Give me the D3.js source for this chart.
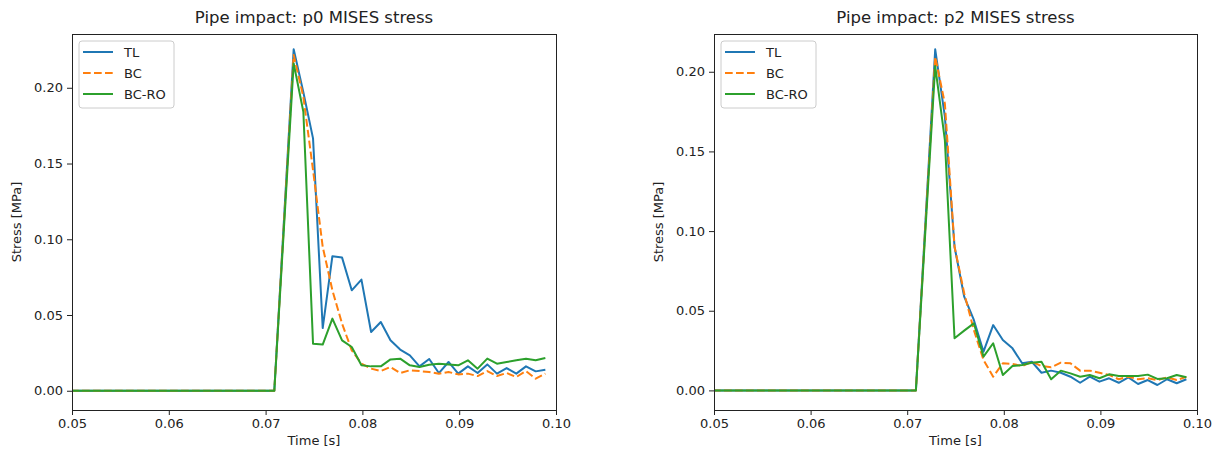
<html>
<head>
  <style>
    body { margin: 0; background: #fff; }
    text { font-family: "DejaVu Sans", sans-serif; fill: #222; }
  </style>
</head>
<body>
  <div id="chart"></div>
  <script src="https://d3js.org/d3.v7.min.js"></script>
  <script>
  'use strict';

  // sample times [s]
  var times = [0.0499, 0.0509, 0.0519, 0.0529, 0.0539, 0.0549, 0.0559, 0.0569, 0.0579, 0.0589,
               0.0599, 0.0609, 0.0619, 0.0629, 0.0639, 0.0649, 0.0659, 0.0669, 0.0679, 0.0689,
               0.0699, 0.0709, 0.0719, 0.0729, 0.0739, 0.0749, 0.0759, 0.0769, 0.0779, 0.0789,
               0.0799, 0.0809, 0.0819, 0.0829, 0.0839, 0.0849, 0.0859, 0.0869, 0.0879, 0.0889,
               0.0899, 0.0909, 0.0919, 0.0929, 0.0939, 0.0949, 0.0959, 0.0969, 0.0979, 0.0989];

  var seriesNames = ['TL', 'BC', 'BC-RO'];

  // p0 MISES stress [MPa]
  var p0TL = [0,0,0,0,0,0,0,0,0,0, 0,0,0,0,0,0,0,0,0,0, 0,0,
              0.113, 0.2254, 0.197, 0.1666, 0.0414, 0.0888, 0.0879, 0.0663, 0.0734, 0.0388,
              0.0454, 0.0333, 0.0272, 0.0234, 0.0161, 0.0210, 0.0117, 0.0190, 0.0113, 0.0161,
              0.0117, 0.0174, 0.0113, 0.0150, 0.0113, 0.0161, 0.0128, 0.0139];
  var p0BC = [0,0,0,0,0,0,0,0,0,0, 0,0,0,0,0,0,0,0,0,0, 0,0,
              0.111, 0.2217, 0.194, 0.1457, 0.095, 0.0663, 0.0443, 0.0267, 0.0179, 0.0146,
              0.0130, 0.0157, 0.0117, 0.0135, 0.0130, 0.0124, 0.0113, 0.0124, 0.0108, 0.0113,
              0.0097, 0.0130, 0.0097, 0.0117, 0.0091, 0.0130, 0.0080, 0.0113];
  var p0RO = [0,0,0,0,0,0,0,0,0,0, 0,0,0,0,0,0,0,0,0,0, 0,0,
              0.108, 0.2161, 0.1842, 0.0311, 0.0305, 0.0476, 0.0333, 0.0289, 0.0168, 0.0161,
              0.0161, 0.0207, 0.0212, 0.0168, 0.0157, 0.0172, 0.0179, 0.0174, 0.0168, 0.0201,
              0.0146, 0.0212, 0.0179, 0.0190, 0.0201, 0.0212, 0.0201, 0.0216];

  // p2 MISES stress [MPa]
  var p2TL = [0,0,0,0,0,0,0,0,0,0, 0,0,0,0,0,0,0,0,0,0, 0,0,
              0.107, 0.2141, 0.1718, 0.0902, 0.0588, 0.0442, 0.0243, 0.0410, 0.0316, 0.0264,
              0.0170, 0.0180, 0.0111, 0.0124, 0.0111, 0.0086, 0.0048, 0.0086, 0.0055, 0.0076,
              0.0048, 0.0082, 0.0040, 0.0065, 0.0034, 0.0070, 0.0045, 0.0070];
  var p2BC = [0,0,0,0,0,0,0,0,0,0, 0,0,0,0,0,0,0,0,0,0, 0,0,
              0.105, 0.2094, 0.180, 0.0902, 0.061, 0.0379, 0.0191, 0.0086, 0.0170, 0.0166,
              0.0153, 0.0180, 0.0153, 0.0145, 0.0174, 0.0170, 0.0124, 0.0124, 0.0111, 0.0097,
              0.0070, 0.0086, 0.0070, 0.0076, 0.0065, 0.0082, 0.0065, 0.0086];
  var p2RO = [0,0,0,0,0,0,0,0,0,0, 0,0,0,0,0,0,0,0,0,0, 0,0,
              0.102, 0.2036, 0.1571, 0.0327, 0.0375, 0.0421, 0.0212, 0.0296, 0.0097, 0.0153,
              0.0159, 0.0174, 0.0180, 0.0070, 0.0124, 0.0107, 0.0086, 0.0097, 0.0076, 0.0101,
              0.0090, 0.0090, 0.0090, 0.0099, 0.0072, 0.0076, 0.0097, 0.0082];

  var xTicks = [0.05, 0.06, 0.07, 0.08, 0.09, 0.10];
  var yTicks = [0.00, 0.05, 0.10, 0.15, 0.20];

  var width = 1223,
      height = 452;

  var colors = ['#1f77b4', '#ff7f0e', '#2ca02c'];
  var dashes = [null, '7.7,3.3', null];

  var svg = d3.select('#chart').append('svg')
      .attr('width', width)
      .attr('height', height);
  svg.append('rect').attr('width', width).attr('height', height).attr('fill', '#fff');

  function panel(id, left, right, yDomain, title, series) {
    var top = 34, bottom = 410;
    var x = d3.scaleLinear().domain([0.05, 0.10]).range([left, right]);
    var y = d3.scaleLinear().domain(yDomain).range([bottom, top]);
    var g = svg.append('g');

    g.append('clipPath').attr('id', 'clip-' + id)
      .append('rect')
        .attr('x', left).attr('y', top)
        .attr('width', right - left).attr('height', bottom - top);

    var line = d3.line()
        .x((d, i) => x(times[i]))
        .y(d => y(d));

    g.append('g').attr('clip-path', 'url(#clip-' + id + ')')
      .selectAll('path')
      .data(series)
      .enter().append('path')
        .attr('d', d => line(d))
        .attr('fill', 'none')
        .attr('stroke', (d, i) => colors[i])
        .attr('stroke-width', 2)
        .attr('stroke-dasharray', (d, i) => dashes[i])
        .attr('stroke-linejoin', 'round');

    var xAxis = d3.axisBottom(x).tickValues(xTicks).tickFormat(d3.format('.2f'))
        .tickSize(5).tickPadding(4);
    var yAxis = d3.axisLeft(y).tickValues(yTicks).tickFormat(d3.format('.2f'))
        .tickSize(5).tickPadding(4);

    var gx = g.append('g').attr('transform', 'translate(0,' + bottom + ')').call(xAxis);
    var gy = g.append('g').attr('transform', 'translate(' + left + ',0)').call(yAxis);
    [gx, gy].forEach(function (a) {
      a.select('.domain').remove();
      a.selectAll('line').attr('stroke', '#222');
      a.selectAll('text').style('font-family', '"DejaVu Sans", sans-serif')
        .style('font-size', '13px').attr('fill', '#222');
    });

    // frame
    g.append('rect')
      .attr('x', left).attr('y', top)
      .attr('width', right - left).attr('height', bottom - top)
      .attr('fill', 'none').attr('stroke', '#222').attr('stroke-width', 1)
      .attr('shape-rendering', 'crispEdges');

    g.append('text')
      .attr('x', (left + right) / 2).attr('y', 23)
      .attr('text-anchor', 'middle')
      .style('font-size', '16.5px')
      .text(title);

    g.append('text')
      .attr('x', (left + right) / 2).attr('y', 445)
      .attr('text-anchor', 'middle')
      .style('font-size', '13px')
      .text('Time [s]');

    g.append('text')
      .attr('transform', 'translate(' + (left - 51) + ',' + ((top + bottom) / 2) + ') rotate(-90)')
      .attr('text-anchor', 'middle')
      .style('font-size', '13px')
      .text('Stress [MPa]');

    // legend
    var lg = g.append('g').attr('transform', 'translate(' + (left + 7) + ',' + (top + 7) + ')');
    lg.append('rect')
      .attr('width', 95).attr('height', 67).attr('rx', 3)
      .attr('fill', '#fff').attr('fill-opacity', 0.8)
      .attr('stroke', '#ccc');
    var item = lg.selectAll('g.item').data(seriesNames).enter()
      .append('g').attr('class', 'item')
      .attr('transform', (d, i) => 'translate(0,' + (11 + i * 21) + ')');
    item.append('line')
      .attr('x1', 4).attr('x2', 34)
      .attr('stroke', (d, i) => colors[i])
      .attr('stroke-width', 2)
      .attr('stroke-dasharray', (d, i) => dashes[i]);
    item.append('text')
      .attr('x', 45).attr('y', 4.5)
      .style('font-size', '13px')
      .text(d => d);
  }

  panel('p0', 72, 556, [-0.0127, 0.2355], 'Pipe impact: p0 MISES stress', [p0TL, p0BC, p0RO]);
  panel('p2', 714, 1197, [-0.0123, 0.2237], 'Pipe impact: p2 MISES stress', [p2TL, p2BC, p2RO]);
  </script>
</body>
</html>
